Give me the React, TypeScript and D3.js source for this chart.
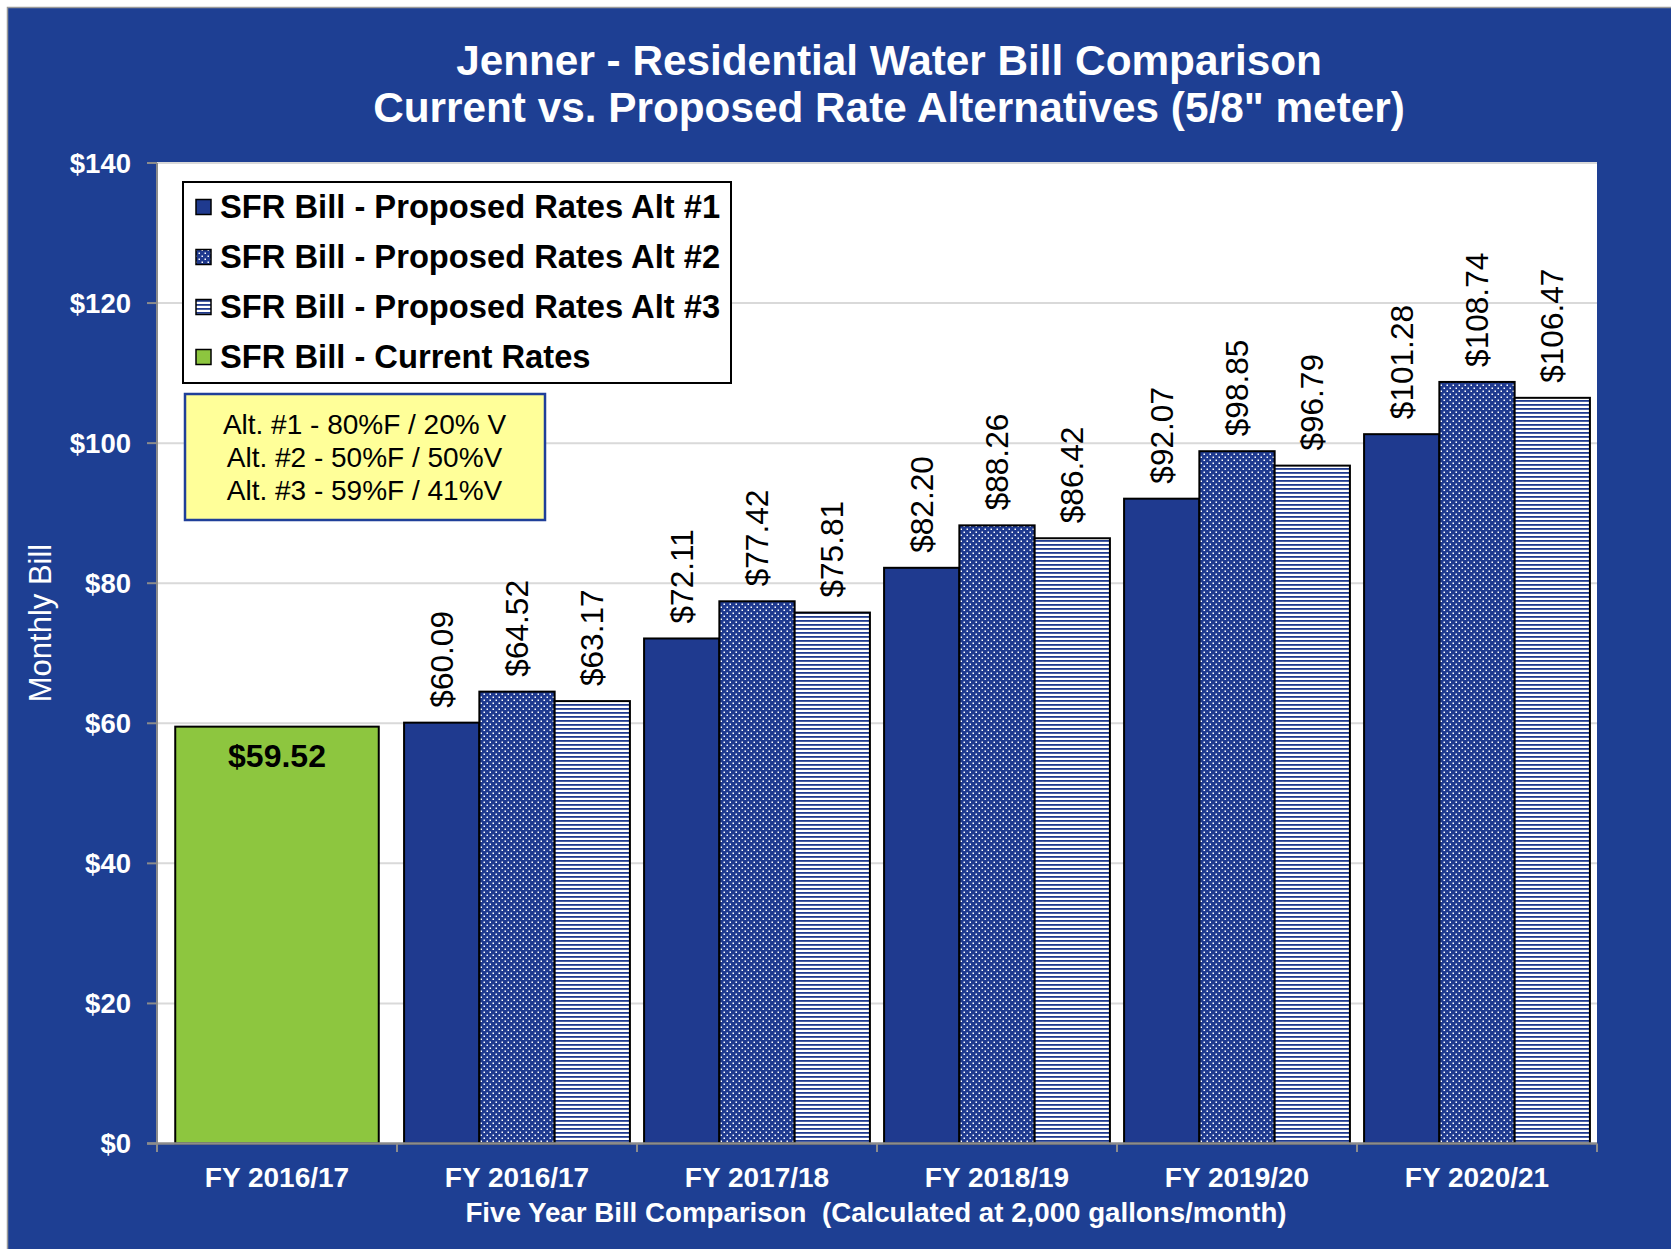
import React from "react";
import * as d3 from "d3";

const categories = ["FY 2016/17", "FY 2016/17", "FY 2017/18", "FY 2018/19", "FY 2019/20", "FY 2020/21"];
const currentRates = [59.52];
const alt1 = [60.09, 72.11, 82.2, 92.07, 101.28];
const alt2 = [64.52, 77.42, 88.26, 98.85, 108.74];
const alt3 = [63.17, 75.81, 86.42, 96.79, 106.47];
const yTicks = [0, 20, 40, 60, 80, 100, 120, 140];
const legendLabels = [
  "SFR Bill - Proposed Rates Alt #1",
  "SFR Bill - Proposed Rates Alt #2",
  "SFR Bill - Proposed Rates Alt #3",
  "SFR Bill - Current Rates",
];
const noteLines = ["Alt. #1 - 80%F / 20% V", "Alt. #2 - 50%F / 50%V", "Alt. #3 - 59%F / 41%V"];

const W = 1671;
const H = 1249;
const BG = "#1E3F93";
const NAVY = "#1F3A8F";
const GREEN = "#8DC63F";
const FONT = "'Liberation Sans', Arial, Helvetica, sans-serif";

export default function App() {
  const x = d3.scaleBand<number>().domain(d3.range(categories.length)).range([157, 1597]).padding(0);
  const y = d3.scaleLinear().domain([0, 140]).range([1143.5, 163]);
  const bw = x.bandwidth();
  const inner = d3.scaleBand<number>().domain([0, 1, 2]).range([0, bw * 0.941]).padding(0);
  const fills = [NAVY, "url(#dots)", "url(#stripes)"];
  const seriesAll = [alt1, alt2, alt3];
  const fmt = (v: number) => "$" + v.toFixed(2);

  const greenW = bw * 0.848;
  const gx = (x(0) as number) + (bw - greenW) / 2;

  return (
    <>
      <style>{`body{margin:0;overflow:hidden}`}</style>
      <svg width={W} height={H} style={{ display: "block" }} fontFamily={FONT}>
        <defs>
          <pattern id="dots" width="6" height="6" patternUnits="userSpaceOnUse">
            <rect width="6" height="6" fill={NAVY} />
            <rect x="0.5" y="0.5" width="1.5" height="1.5" fill="#ffffff" />
            <rect x="3.5" y="3.5" width="1.5" height="1.5" fill="#ffffff" />
          </pattern>
          <pattern id="stripes" width="8" height="4" patternUnits="userSpaceOnUse">
            <rect width="8" height="4" fill="#ffffff" />
            <rect y="0" width="8" height="1.8" fill={NAVY} />
          </pattern>
        </defs>
        <rect x={0} y={0} width={W} height={H} fill="#ffffff" />
        <rect x={7.5} y={7.5} width={W} height={H} fill={BG} stroke="#9a9a9a" strokeWidth={1.5} />

        {/* title */}
        <text x={889} y={75} textAnchor="middle" fill="#fff" fontSize={42.3} fontWeight="bold">
          Jenner - Residential Water Bill Comparison
        </text>
        <text x={889} y={122} textAnchor="middle" fill="#fff" fontSize={42.3} fontWeight="bold">
          Current vs. Proposed Rate Alternatives (5/8" meter)
        </text>

        {/* plot area */}
        <rect x={157} y={163} width={1597 - 157} height={1143.5 - 163} fill="#ffffff" />
        {yTicks.map((t) => (
          <g key={t}>
            {t > 0 && <line x1={157} x2={1597} y1={y(t)} y2={y(t)} stroke="#d9d9d9" strokeWidth={2} />}
            <line x1={147} x2={157} y1={y(t)} y2={y(t)} stroke="#8c8c8c" strokeWidth={2} />
            <text x={131} y={y(t)} dy="0.35em" textAnchor="end" fill="#fff" fontSize={27.5} fontWeight="bold">
              {"$" + t}
            </text>
          </g>
        ))}
        <line x1={157} x2={157} y1={163} y2={1143.5} stroke="#8c8c8c" strokeWidth={2} />

        {/* green bar */}
        <rect x={gx} y={y(currentRates[0])} width={greenW} height={y(0) - y(currentRates[0])} fill={GREEN} stroke="#000" strokeWidth={2} />
        <text x={gx + greenW / 2} y={y(currentRates[0]) + 29} dy="0.35em" textAnchor="middle" fontSize={32} fontWeight="bold" fill="#000">
          {fmt(currentRates[0])}
        </text>

        {/* proposed bars */}
        {seriesAll.map((s, si) =>
          s.map((v, i) => {
            const ci = i + 1;
            const bx = (x(ci) as number) + bw * (1 - 0.941) / 2 + (inner(si) as number);
            const ib = inner.bandwidth();
            return (
              <g key={si + "-" + i}>
                <rect x={bx} y={y(v)} width={ib} height={y(0) - y(v)} fill={fills[si]} stroke="#000" strokeWidth={2} />
                <text
                  transform={`translate(${bx + ib / 2},${y(v) - 15}) rotate(-90)`}
                  dy="0.35em"
                  textAnchor="start"
                  fontSize={31.6}
                  fill="#000"
                >
                  {fmt(v)}
                </text>
              </g>
            );
          })
        )}

        {/* x axis */}
        <line x1={147} x2={1597} y1={1143.5} y2={1143.5} stroke="#8c8c8c" strokeWidth={2.5} />
        {d3.range(categories.length + 1).map((i) => {
          const px = i < categories.length ? (x(i) as number) : 1597;
          return <line key={i} x1={px} x2={px} y1={1143.5} y2={1152} stroke="#8c8c8c" strokeWidth={2} />;
        })}
        {categories.map((c, i) => (
          <text key={i} x={(x(i) as number) + bw / 2} y={1187} textAnchor="middle" fill="#fff" fontSize={28} fontWeight="bold">
            {c}
          </text>
        ))}
        <text x={876} y={1222} textAnchor="middle" fill="#fff" fontSize={27.7} fontWeight="bold" style={{ whiteSpace: "pre" }}>
          {"Five Year Bill Comparison  (Calculated at 2,000 gallons/month)"}
        </text>

        {/* y title */}
        <text transform="translate(51,623) rotate(-90)" textAnchor="middle" fill="#fff" fontSize={31}>
          Monthly Bill
        </text>

        {/* legend */}
        <rect x={183} y={182} width={548} height={201} fill="#fff" stroke="#000" strokeWidth={2} />
        {legendLabels.map((l, i) => {
          const cy = 207 + i * 50;
          const f = i < 3 ? fills[i] : GREEN;
          return (
            <g key={i}>
              <rect x={196} y={cy - 7.5} width={15} height={15} fill={f} stroke="#000" strokeWidth={1.5} />
              <text x={220} y={cy} dy="0.35em" fontSize={32.7} fontWeight="bold" fill="#000">
                {l}
              </text>
            </g>
          );
        })}

        {/* note */}
        <rect x={185} y={394} width={360} height={126} fill="#FFFF99" stroke="#1F3F99" strokeWidth={2.5} />
        {noteLines.map((t, i) => (
          <text key={i} x={364.5} y={424 + i * 33} dy="0.35em" textAnchor="middle" fontSize={28} fill="#000">
            {t}
          </text>
        ))}
      </svg>
    </>
  );
}
